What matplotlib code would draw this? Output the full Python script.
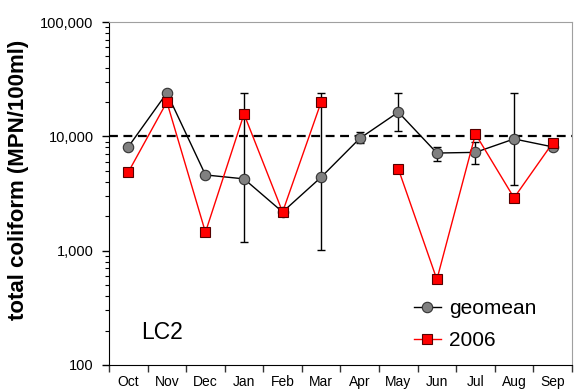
import numpy as np
import matplotlib
matplotlib.use("Agg")
import matplotlib.pyplot as plt
from matplotlib.ticker import FixedLocator, FuncFormatter, LogLocator, NullFormatter

plt.rcParams['font.family'] = ['Liberation Sans', 'DejaVu Sans']

months = ['Oct', 'Nov', 'Dec', 'Jan', 'Feb', 'Mar', 'Apr', 'May', 'Jun', 'Jul', 'Aug', 'Sep']
geomean = [8100, 24000, 4600, 4250, 2180, 4400, 9600, 16300, 7150, 7250, 9500, 8100]
geo_hi = [np.nan, np.nan, np.nan, 24000, np.nan, 24000, 11000, 24000, 8100, 9000, 24000, np.nan]
geo_lo = [np.nan, np.nan, np.nan, 1200, np.nan, 1020, 8700, 11100, 6100, 5750, 3750, np.nan]
y2006 = [4870, 20000, 1450, 15700, 2180, 20000, np.nan, 5200, 560, 10500, 2900, 8750]
standard = 10000

fig = plt.figure(figsize=(5.75, 3.91), dpi=100)
ax = fig.add_axes([0.1896, 0.0665, 0.805, 0.877])

x = np.arange(len(months)) + 0.5
g = np.array(geomean, float)
hi = np.array(geo_hi, float)
lo = np.array(geo_lo, float)
yerr = np.vstack([np.where(np.isnan(lo), 0, g - lo), np.where(np.isnan(hi), 0, hi - g)])
mask = ~np.isnan(hi)

ax.errorbar(x[mask], g[mask], yerr=yerr[:, mask], fmt='none', ecolor='black',
            elinewidth=1.0, capsize=3, capthick=1.0, zorder=2)
ax.plot(x, geomean, color='black', lw=1.0, marker='o', ms=7.5, mfc='#808080',
        mec='#333333', mew=0.8, zorder=3, label='geomean')
ax.plot(x, y2006, color='#ff0000', lw=1.0, marker='s', ms=7.5, mfc='#ff0000',
        mec='#550000', mew=0.8, zorder=4, label='2006')
ax.axhline(standard, color='black', lw=1.6, ls=(0, (4, 2.5)), zorder=1)

ax.set_yscale('log')
ax.set_ylim(100, 100000)
ax.set_xlim(0, 12)
ax.yaxis.set_major_locator(FixedLocator([100, 1000, 10000, 100000]))
ax.yaxis.set_major_formatter(FuncFormatter(lambda v, p: f"{int(round(v)):,}"))
ax.yaxis.set_minor_locator(LogLocator(base=10, subs=np.arange(2, 10)))
ax.yaxis.set_minor_formatter(NullFormatter())

ax.set_xticks(np.arange(0, 13))
ax.set_xticklabels([])
ax.set_xticks(x, minor=True)
ax.set_xticklabels(months, minor=True)
ax.tick_params(axis='x', which='major', direction='out', length=5, width=1, color='#333333')
ax.tick_params(axis='x', which='minor', length=0, pad=7, labelsize=10)
ax.tick_params(axis='y', which='major', direction='out', length=5, width=1, labelsize=10.5, pad=6)
ax.tick_params(axis='y', which='minor', direction='out', length=3, width=0.8)

for s in ['top', 'right']:
    ax.spines[s].set_color('#a0a0a0')
for s in ['left', 'bottom']:
    ax.spines[s].set_color('black')

ax.set_ylabel('total coliform (MPN/100ml)', fontsize=16, fontweight='bold')
ax.yaxis.set_label_coords(-0.172, 0.54)

ax.text(0.07, 0.06, 'LC2', transform=ax.transAxes, fontsize=16.5, ha='left', va='bottom')

leg = ax.legend(loc='lower right', bbox_to_anchor=(0.955, 0.0), frameon=False,
                fontsize=15, handlelength=1.3, handletextpad=0.4, labelspacing=0.65,
                borderaxespad=0.3)

fig.savefig('out.png', dpi=100)
